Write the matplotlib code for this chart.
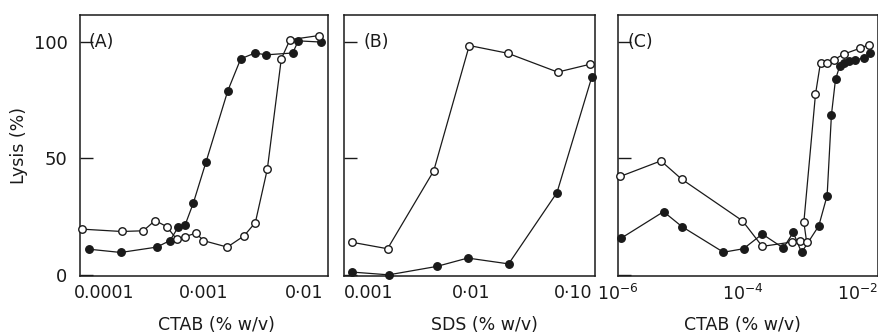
import numpy as np
import matplotlib
matplotlib.use('Agg')
import matplotlib.pyplot as plt
import matplotlib.transforms as mtransforms
from matplotlib.ticker import NullFormatter

# panel A: CTAB
a_open_x = [6.07e-5, 1.50e-4, 2.47e-4, 3.24e-4, 4.24e-4, 5.33e-4, 6.46e-4, 8.32e-4,
            9.84e-4, 1.71e-3, 2.51e-3, 3.26e-3, 4.30e-3, 5.93e-3, 7.24e-3, 1.42e-2]
a_open_y = [19.6, 18.6, 18.9, 23.3, 20.7, 15.3, 16.4, 17.9,
            14.7, 11.9, 16.7, 22.4, 45.4, 92.7, 100.9, 102.7]
a_fill_x = [7.08e-5, 1.47e-4, 3.37e-4, 4.57e-4, 5.53e-4, 6.46e-4, 7.82e-4, 1.047e-3,
            1.73e-3, 2.33e-3, 3.24e-3, 4.17e-3, 7.71e-3, 8.77e-3, 1.47e-2]
a_fill_y = [11.0, 9.6, 11.9, 14.7, 20.5, 21.3, 30.8, 48.4,
            79.0, 92.7, 95.2, 94.4, 95.2, 100.4, 99.9]

# panel B: SDS
b_open_x = [6.76e-4, 1.52e-3, 4.31e-3, 9.62e-3, 0.0229, 0.0708, 0.148]
b_open_y = [14.0, 11.2, 44.6, 98.4, 95.1, 87.0, 90.4]
b_fill_x = [6.76e-4, 1.56e-3, 4.61e-3, 9.29e-3, 0.0234, 0.0697, 0.153]
b_fill_y = [1.2, 0.0, 3.6, 7.2, 4.7, 35.3, 84.9]

# panel C: CTAB
c_open_x = [1.08e-6, 4.88e-6, 1.045e-5, 9.89e-5, 2.06e-4, 6.24e-4, 8.26e-4, 1.057e-3,
            9.57e-4, 1.47e-3, 1.77e-3, 2.26e-3, 2.89e-3, 4.18e-3, 7.73e-3, 1.05e-2]
c_open_y = [42.2, 48.9, 41.1, 23.2, 12.2, 14.1, 14.4, 14.3,
            22.6, 77.5, 91.1, 90.9, 92.3, 94.7, 97.3, 98.7]
c_fill_x = [1.12e-6, 5.38e-6, 1.06e-5, 4.91e-5, 1.03e-4, 2.06e-4, 4.48e-4, 6.47e-4,
            8.79e-4, 1.66e-3, 2.26e-3, 2.65e-3, 3.08e-3, 3.61e-3, 4.18e-3, 5.02e-3,
            6.43e-3, 8.73e-3, 1.12e-2]
c_fill_y = [15.7, 27.1, 20.7, 9.7, 11.2, 17.5, 11.5, 18.2,
            9.6, 21.0, 34.0, 68.7, 83.9, 89.7, 90.9, 91.6,
            92.3, 93.0, 95.4]

panels = [
    dict(ox=a_open_x, oy=a_open_y, fx=a_fill_x, fy=a_fill_y, xlim=(10**-4.24, 10**-1.76),
         ticks=[1e-4, 1e-3, 1e-2], labels=['0.0001', '0·001', '0·01'], minor=[1e-3],
         xlabel='CTAB (% w/v)', labx=0.55, tag='(A)', tagx=0.035, rect=[80, 328]),
    dict(ox=b_open_x, oy=b_open_y, fx=b_fill_x, fy=b_fill_y, xlim=(10**-3.245, 10**-0.784),
         ticks=[1e-3, 1e-2, 1e-1], labels=['0.001', '0·01', '0·10'], minor=[1e-2],
         xlabel='SDS (% w/v)', labx=0.56, tag='(B)', tagx=0.076, rect=[344, 595]),
    dict(ox=c_open_x, oy=c_open_y, fx=c_fill_x, fy=c_fill_y, xlim=(10**-5.99, 10**-1.83),
         ticks=[1e-6, 1e-4, 1e-2], labels=['$10^{-6}$', '$10^{-4}$', '$10^{-2}$'], minor=[1e-4, 1e-2],
         xlabel='CTAB (% w/v)', labx=0.48, tag='(C)', tagx=0.035, rect=[618, 878]),
]

W, H = 879, 336
fig = plt.figure(figsize=(W / 100, H / 100), dpi=100)
ink = '#1a1a1a'

for i, p in enumerate(panels):
    x0, x1 = p['rect']
    ax = fig.add_axes([x0 / W, 1 - 276 / H, (x1 - x0) / W, (276 - 15) / H])
    ax.plot(p['fx'], p['fy'], '-o', color=ink, lw=0.9, ms=5.4, mfc=ink, mec=ink, clip_on=False, zorder=3)
    ax.plot(p['ox'], p['oy'], '-o', color=ink, lw=0.9, ms=5.4, mfc='white', mec=ink, mew=1.0,
            clip_on=False, zorder=4)
    ax.set_xscale('log')
    ax.set_xlim(*p['xlim'])
    ax.set_ylim(-0.5, 111.5)

    ax.set_xticks(p['ticks'])
    ax.set_xticklabels(p['labels'])
    ax.set_xticks(p['minor'], minor=True)
    ax.xaxis.set_minor_formatter(NullFormatter())
    ax.tick_params(axis='x', which='major', length=0, pad=6, labelsize=12.5, colors=ink)
    ax.tick_params(axis='x', which='minor', direction='in', length=9, width=1.0, color=ink)

    ax.set_yticks([0, 50, 100])
    ax.tick_params(axis='y', direction='in', length=9, width=1.0, color=ink, pad=9,
                   labelsize=13, labelcolor=ink)
    if i > 0:
        ax.set_yticklabels([])
    else:
        ax.set_ylabel('Lysis (%)', fontsize=12.5, color=ink, labelpad=4)

    ax.set_xlabel(p['xlabel'], fontsize=12.5, color=ink, va='center')
    ax.xaxis.set_label_coords(p['labx'], -0.188)

    # last C label sits partly past the frame edge, pull it in a little
    if i == 2:
        lab = ax.get_xticklabels()[-1]
        lab.set_transform(lab.get_transform() +
                          mtransforms.ScaledTranslation(-10 / 100, 0, fig.dpi_scale_trans))

    trans = mtransforms.blended_transform_factory(ax.transAxes, ax.transData)
    ax.text(p['tagx'], 100, p['tag'], transform=trans,
            fontsize=12.5, color=ink, va='center', ha='left')

    for s in ax.spines.values():
        s.set_linewidth(1.1)
        s.set_color(ink)

fig.savefig('out.png', dpi=100)
